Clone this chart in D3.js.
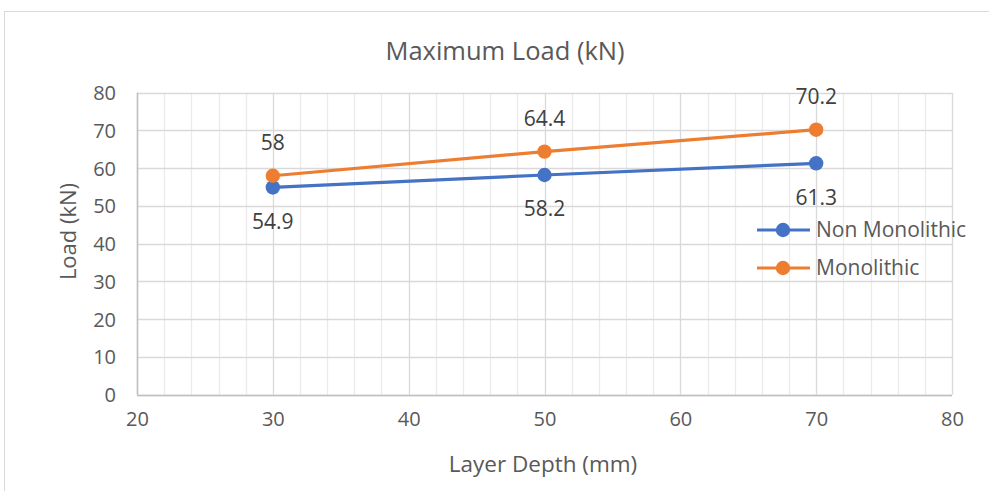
<!DOCTYPE html>
<html><head><meta charset="utf-8">
<script src="https://cdn.jsdelivr.net/npm/d3@7"></script>
<style>body{margin:0;background:#fff;font-family:"Open Sans","Noto Sans",sans-serif;}</style>
</head><body>
<svg id="c" width="989" height="491"></svg>
<script>
const title = "Maximum Load (kN)";
const xTitle = "Layer Depth (mm)";
const yTitle = "Load (kN)";
const depths = [30, 50, 70];
const seriesNames = ["Non Monolithic", "Monolithic"];
const nonMonolithic = [54.9, 58.2, 61.3];
const monolithic = [58, 64.4, 70.2];
const colors = ["#4472C4", "#ED7D31"];
const xTicks = [20, 30, 40, 50, 60, 70, 80];
const yTicks = [0, 10, 20, 30, 40, 50, 60, 70, 80];

const svg = d3.select("#c");
const W = 989, H = 491;
const m = {l: 137, r: 952, t: 92.7, b: 394.7};
const x = d3.scaleLinear().domain([20, 80]).range([m.l, m.r]);
const y = d3.scaleLinear().domain([0, 80]).range([m.b, m.t]);
const FONT = "'Open Sans','Noto Sans',sans-serif";

// chart border
svg.append("rect").attr("x", 4.5).attr("y", 11.5).attr("width", W).attr("height", H)
  .attr("fill", "none").attr("stroke", "#d9d9d9").attr("stroke-width", 1);

// minor vertical gridlines
const minor = d3.range(20, 80.01, 2).filter(v => v % 10 !== 0);
svg.append("g").selectAll("line").data(minor).join("line")
  .attr("x1", d => Math.round(x(d)) + 0.5).attr("x2", d => Math.round(x(d)) + 0.5)
  .attr("y1", m.t).attr("y2", m.b).attr("stroke", "#ebebeb").attr("stroke-width", 1.3);

// major gridlines
svg.append("g").selectAll("line").data(xTicks).join("line")
  .attr("x1", d => Math.round(x(d)) + 0.5).attr("x2", d => Math.round(x(d)) + 0.5)
  .attr("y1", m.t).attr("y2", m.b).attr("stroke", "#d9d9d9").attr("stroke-width", 1.3);
svg.append("g").selectAll("line").data(yTicks).join("line")
  .attr("y1", d => Math.round(y(d)) + 0.5).attr("y2", d => Math.round(y(d)) + 0.5)
  .attr("x1", m.l).attr("x2", m.r).attr("stroke", "#d9d9d9").attr("stroke-width", 1.3);

// axis lines
svg.append("line").attr("x1", m.l).attr("x2", m.r).attr("y1", Math.round(y(0)) + 0.5).attr("y2", Math.round(y(0)) + 0.5)
  .attr("stroke", "#bfbfbf").attr("stroke-width", 1.5);
svg.append("line").attr("x1", Math.round(x(20)) + 0.5).attr("x2", Math.round(x(20)) + 0.5).attr("y1", m.t).attr("y2", m.b)
  .attr("stroke", "#bfbfbf").attr("stroke-width", 1.5);

// tick labels via axes
const xAxis = svg.append("g").attr("transform", `translate(0,${m.b})`)
  .call(d3.axisBottom(x).tickValues(xTicks).tickSize(0).tickPadding(0));
const yAxis = svg.append("g").attr("transform", `translate(${m.l},0)`)
  .call(d3.axisLeft(y).tickValues(yTicks).tickSize(0).tickPadding(21));
[xAxis, yAxis].forEach(a => {
  a.select(".domain").remove();
  a.selectAll("text").attr("fill", "#595959").attr("font-size", 20).attr("font-family", FONT);
});
xAxis.selectAll("text").attr("y", 31).attr("dy", "0");
yAxis.selectAll("text").attr("dy", "0.35em");

// titles
svg.append("text").attr("x", 505).attr("y", 51).attr("dy", "0.35em").attr("text-anchor", "middle")
  .attr("font-size", 25.5).attr("font-family", FONT).attr("fill", "#595959").text(title);
svg.append("text").attr("x", 543).attr("y", 464).attr("dy", "0.35em").attr("text-anchor", "middle")
  .attr("font-size", 22.5).attr("font-family", FONT).attr("fill", "#595959").text(xTitle);
svg.append("text").attr("transform", `translate(68,${(185 + 278) / 2}) rotate(-90)`)
  .attr("dy", "0.35em").attr("text-anchor", "middle").attr("font-size", 22).attr("font-family", FONT)
  .attr("fill", "#595959").text(yTitle);

// series
const series = [nonMonolithic, monolithic];
const line = d3.line().x(d => x(d[0])).y(d => y(d[1]));
series.forEach((vals, i) => {
  const pts = depths.map((d, j) => [d, vals[j]]);
  svg.append("path").datum(pts).attr("d", line).attr("fill", "none")
    .attr("stroke", colors[i]).attr("stroke-width", 3.2).attr("stroke-linecap", "round");
  svg.append("g").selectAll("circle").data(pts).join("circle")
    .attr("cx", d => x(d[0])).attr("cy", d => y(d[1])).attr("r", 7.2).attr("fill", colors[i]);
  svg.append("g").selectAll("text").data(pts).join("text")
    .attr("x", d => x(d[0])).attr("y", d => y(d[1]) + (i === 0 ? 34 : -33))
    .attr("dy", "0.35em").attr("text-anchor", "middle").attr("font-size", 21).attr("font-family", FONT)
    .attr("fill", "#404040").text(d => d[1]);
});

// legend
const leg = svg.append("g");
seriesNames.forEach((n, i) => {
  const ly = 230 + i * 38;
  leg.append("line").attr("x1", 757).attr("x2", 810).attr("y1", ly).attr("y2", ly)
    .attr("stroke", colors[i]).attr("stroke-width", 3.2);
  leg.append("circle").attr("cx", 783).attr("cy", ly).attr("r", 7.2).attr("fill", colors[i]);
  leg.append("text").attr("x", 816).attr("y", ly).attr("dy", "0.35em")
    .attr("font-size", 21).attr("font-family", FONT).attr("fill", "#595959").text(n);
});
</script>
</body></html>
